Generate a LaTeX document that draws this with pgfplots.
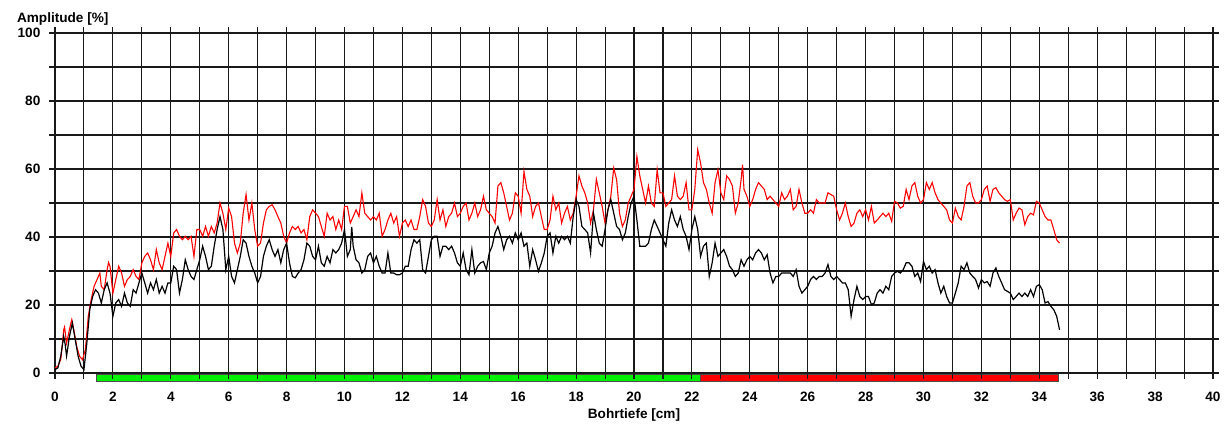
\documentclass[border=0pt]{standalone}
\usepackage{fontspec}
\setmainfont{Liberation Sans}
\usepackage{pgfplots}
\pgfplotsset{compat=1.18}

\definecolor{barGreen}{RGB}{0,240,0}
\definecolor{barRed}{RGB}{255,0,0}
\definecolor{gridc}{RGB}{25,25,25}
\newcommand\lblfont{\fontsize{6.8}{8}\selectfont\bfseries}

\begin{document}
\begin{tikzpicture}
\begin{axis}[
  set layers,
  scale only axis,
  width=579pt, height=170pt,
  xmin=0, xmax=40, ymin=0, ymax=100,
  clip=false,
  xtick={0,2,...,40}, ytick={0,20,...,100},
  minor x tick num=1, minor y tick num=1,
  grid=both,
  major grid style={gridc, line width=0.55pt},
  minor grid style={gridc, line width=0.55pt},
  axis line style={gridc, line width=0.55pt},
  tick style={gridc, line width=0.55pt},
  tick align=outside,
  major tick length=2.8pt, minor tick length=2.8pt,
  tick label style={font=\lblfont},
  /pgf/number format/assume math mode=true,
  xticklabel style={yshift=-3pt},
  yticklabel style={xshift=-1pt},
  xlabel={Bohrtiefe [cm]},
  ylabel={Amplitude [\%]},
  every axis x label/.style={at={(axis description cs:0.5,0)}, anchor=base, yshift=-22.5pt, font=\lblfont},
  every axis y label/.style={at={(axis description cs:0,1)}, anchor=base west, xshift=-22.5pt, yshift=5.5pt, font=\lblfont},
]
% Bohrtiefe-Balken unter der Achse
\addplot[on layer=axis background, fill=barGreen, draw=black!70, line width=0.5pt]
  coordinates {(1.42,-0.3) (22.29,-0.3) (22.29,-2.5) (1.42,-2.5)} -- cycle;
\addplot[on layer=axis background, fill=barRed, draw=black!70, line width=0.5pt]
  coordinates {(22.29,-0.3) (34.65,-0.3) (34.65,-2.5) (22.29,-2.5)} -- cycle;

% rote Kurve
\addplot[red, line width=0.55pt, mark=none] coordinates {
(0,1.5)(0.1,2)(0.2,4)(0.25,8)(0.3,12.7)(0.33,13.5)(0.4,8.8)(0.45,10.8)(0.55,14.7)(0.58,15.7)
(0.65,12.7)(0.75,7.8)(0.85,4.9)(0.95,3.9)(1.05,6.9)(1.15,16.7)(1.25,21.6)(1.35,25.5)(1.5,28.4)(1.55,29.4)
(1.6,25.5)(1.7,24.5)(1.8,30.4)(1.85,32.5)(1.9,31.4)(2.0,23.5)(2.1,27.5)(2.2,31.4)(2.3,29.4)(2.4,25.5)
(2.5,27.5)(2.6,28.4)(2.7,30.4)(2.8,28.4)(2.9,27.5)(3.0,32.4)(3.1,34.3)(3.2,35.3)(3.3,33.3)(3.4,30.4)
(3.5,36.3)(3.6,32.4)(3.7,30.4)(3.8,34.3)(3.9,38.2)(4.0,34.3)(4.1,41.2)(4.2,42.2)(4.3,40.2)(4.4,39.2)
(4.5,40.2)(4.6,39.2)(4.7,40.2)(4.8,34.3)(4.9,42.2)(5.0,42.2)(5.1,40.2)(5.2,43.1)(5.3,40.2)(5.4,43.1)
(5.5,41.2)(5.6,44.1)(5.7,50)(5.8,47)(5.9,42.2)(6.0,48.5)(6.1,46)(6.2,38.2)(6.3,35.3)(6.4,38.2)
(6.5,47)(6.6,52.5)(6.7,45)(6.8,50)(6.9,42.2)(7.0,37.3)(7.1,38.2)(7.2,44.1)(7.3,48)(7.4,49)
(7.5,49.5)(7.6,48)(7.7,46)(7.8,44.1)(7.9,40.2)(8.0,38.2)(8.1,41.2)(8.2,43.1)(8.3,42.2)(8.4,43.1)
(8.5,41.2)(8.6,42.2)(8.7,39.2)(8.8,46)(8.9,48)(9.0,47)(9.1,46)(9.2,43.1)(9.3,40.2)(9.4,47)
(9.5,45)(9.6,46)(9.7,42.2)(9.8,45)(9.9,42.2)(10.0,49)(10.1,49)(10.2,44.1)(10.3,46)(10.4,48)
(10.5,46)(10.6,53)(10.7,47)(10.8,46)(10.9,45)(11.0,46)(11.1,45)(11.2,47)(11.3,40.2)(11.4,42.2)
(11.5,45)(11.6,47)(11.7,44.1)(11.8,46)(11.9,40.2)(12.0,44.1)(12.1,45)(12.2,43.1)(12.3,45)(12.4,42.2)
(12.5,42.2)(12.6,46)(12.7,51)(12.8,49)(12.9,44.1)(13.0,43.1)(13.1,45)(13.2,51)(13.3,45)(13.4,48)
(13.5,43.1)(13.6,46)(13.7,47)(13.8,50)(13.9,46)(14.0,47)(14.1,49)(14.2,50)(14.3,45)(14.4,47)
(14.5,50)(14.6,46)(14.7,48)(14.8,52)(14.9,48)(15.0,47)(15.1,46)(15.2,44.1)(15.3,55)(15.4,56)
(15.5,53)(15.6,49)(15.7,45)(15.8,47)(15.9,53)(16.0,52)(16.1,47)(16.2,59.3)(16.3,54)(16.4,52)
(16.5,46)(16.6,49)(16.7,50)(16.8,46)(16.9,42.2)(17.0,42.2)(17.1,45)(17.2,52)(17.3,48)(17.4,50)
(17.5,44.1)(17.6,47)(17.7,49)(17.8,45)(17.9,47)(18.0,52)(18.1,58)(18.2,55)(18.3,53)(18.4,50)
(18.5,44.1)(18.6,48)(18.7,57)(18.8,53)(18.9,49)(19.0,44.1)(19.1,48)(19.2,52)(19.3,60.3)(19.4,56.9)
(19.5,47)(19.6,43.1)(19.7,45)(19.8,50)(19.9,52)(20.0,54)(20.1,63.7)(20.2,58)(20.3,54)(20.4,50)
(20.5,55)(20.6,50)(20.7,49)(20.8,59.8)(20.9,53)(21.0,53)(21.1,49)(21.2,50)(21.3,51)(21.4,58)
(21.5,52)(21.6,51)(21.7,52)(21.8,56)(21.9,48)(22.0,48)(22.1,54)(22.2,65.7)(22.3,61.8)(22.4,56)
(22.5,54)(22.6,50)(22.7,47)(22.8,56)(22.9,59.8)(23.0,53)(23.1,51)(23.2,58)(23.3,56.9)(23.4,55)
(23.5,47)(23.6,50)(23.7,56.9)(23.75,61.3)(23.8,54)(23.9,52)(24.0,49)(24.1,51)(24.2,54)(24.3,56)
(24.4,55)(24.5,54)(24.6,51)(24.7,52)(24.8,51)(24.9,50)(25.0,49)(25.1,53)(25.2,51)(25.3,52)
(25.4,54)(25.5,48)(25.6,49)(25.7,54)(25.8,50)(25.9,47)(26.0,47)(26.1,48)(26.2,47)(26.3,51)
(26.4,50)(26.5,50)(26.6,50)(26.7,53)(26.8,52.5)(26.9,52)(27.0,48)(27.1,45)(27.2,47)(27.3,50)
(27.4,46)(27.5,43.1)(27.6,44.1)(27.7,47)(27.8,48)(27.9,46)(28.0,48)(28.1,45)(28.2,49)(28.3,44.1)
(28.4,45)(28.5,46)(28.6,47)(28.7,46)(28.8,47)(28.9,44.6)(29.0,50.5)(29.1,50)(29.2,48.5)(29.3,49)
(29.4,54)(29.5,51)(29.6,55)(29.7,56)(29.8,52)(29.9,50)(30.0,51)(30.1,56)(30.2,54)(30.3,56)
(30.4,53)(30.5,51)(30.6,50)(30.7,49)(30.8,48)(30.9,45)(31.0,44.1)(31.1,48.5)(31.2,46)(31.3,45)
(31.4,49)(31.5,55)(31.6,56)(31.7,52)(31.8,50)(31.9,50)(32.0,51)(32.1,54)(32.2,55)(32.3,50.5)
(32.4,54)(32.5,54.5)(32.6,53)(32.7,52)(32.8,51)(32.9,50.5)(33.0,51)(33.1,45)(33.2,47)(33.3,48.5)
(33.4,48)(33.5,43.6)(33.6,46)(33.7,47)(33.8,46.5)(33.9,50.5)(34.0,50)(34.1,48)(34.2,46)(34.3,45)
(34.4,45)(34.5,42.2)(34.6,39.2)(34.7,38.2)
};

% schwarze Kurve
\addplot[black, line width=0.6pt, mark=none] coordinates {
(0,1)(0.1,1.5)(0.2,5)(0.3,10.8)(0.35,8.5)(0.4,5)(0.5,10.8)(0.6,14.7)(0.7,9.8)(0.8,4.9)
(0.9,2)(1.0,1)(1.1,8.8)(1.2,18.6)(1.3,22.5)(1.4,24.5)(1.5,23.5)(1.6,20.6)(1.7,24.5)(1.8,26.5)
(1.9,23.5)(2.0,16.7)(2.1,20.6)(2.2,21.6)(2.3,19.6)(2.4,23.5)(2.5,20.6)(2.6,19.6)(2.7,24.5)(2.8,23.5)
(2.9,26.5)(3.0,29.4)(3.1,26.5)(3.2,23.5)(3.3,26.5)(3.4,24.5)(3.5,27.5)(3.6,23.5)(3.7,25.5)(3.8,23.5)
(3.9,26.5)(4.0,26.5)(4.1,31.4)(4.2,30.4)(4.3,23.5)(4.4,27.5)(4.5,33.3)(4.6,30.4)(4.7,28.4)(4.8,27.5)
(4.9,30.4)(5.0,33.3)(5.1,37.3)(5.2,34.3)(5.3,30.4)(5.4,31.4)(5.5,37.3)(5.6,42.2)(5.7,46)(5.8,42.2)
(5.9,30.4)(6.0,34.3)(6.1,28.4)(6.2,26.5)(6.3,30.4)(6.4,34.3)(6.5,39.2)(6.6,38.2)(6.7,34.3)(6.8,31.4)
(6.9,29.4)(7.0,26.5)(7.1,28.4)(7.2,34.3)(7.3,37.3)(7.4,39.2)(7.5,36.3)(7.6,34.3)(7.7,36.3)(7.8,32.4)
(7.9,36.3)(8.0,38.2)(8.1,32.4)(8.2,28.4)(8.3,28)(8.4,29.4)(8.5,30.4)(8.6,33.3)(8.7,38.2)(8.8,37.3)
(8.9,34.3)(9.0,33.3)(9.1,37.3)(9.2,32.4)(9.3,31.4)(9.4,34.3)(9.5,32.4)(9.6,36.3)(9.7,35.3)(9.8,36.3)
(9.9,38.2)(10.0,42.2)(10.1,34.3)(10.2,36.3)(10.25,43)(10.3,37.3)(10.4,33.3)(10.5,32.4)(10.6,29.4)(10.7,30.4)
(10.8,34.3)(10.9,35.3)(11.0,32.4)(11.1,34.3)(11.2,31.4)(11.3,29.4)(11.4,29.4)(11.5,35.3)(11.6,29.4)(11.7,29.4)
(11.8,28.9)(11.9,28.9)(12.0,29.4)(12.1,31.4)(12.2,31.4)(12.3,36.3)(12.4,39.2)(12.5,38.2)(12.6,39.2)(12.7,30.4)
(12.8,29.4)(12.9,34.3)(13.0,39.2)(13.1,40.2)(13.2,40.2)(13.3,34.3)(13.4,37.3)(13.5,37.3)(13.6,36.3)(13.7,37.3)
(13.8,35.3)(13.9,32.4)(14.0,31.4)(14.1,35.3)(14.2,30.4)(14.3,28.9)(14.4,36.3)(14.5,29.4)(14.6,31.4)(14.7,32.4)
(14.8,32.8)(14.9,30.4)(15.0,35.3)(15.1,37.3)(15.2,41.2)(15.3,43.1)(15.4,40.2)(15.5,36.3)(15.6,39.2)(15.7,40.2)
(15.8,38.2)(15.9,41.2)(16.0,39.2)(16.1,41.2)(16.2,37.3)(16.3,38.2)(16.4,31.4)(16.5,36.3)(16.6,33.3)(16.7,29.9)
(16.8,32.4)(16.9,35.3)(17.0,40.2)(17.1,41.2)(17.2,35.3)(17.3,40.2)(17.4,38.2)(17.5,40.2)(17.6,39.2)(17.7,40.2)
(17.8,38.2)(17.9,46)(18.0,51)(18.1,49)(18.2,43.1)(18.3,42.2)(18.4,41.2)(18.5,35.3)(18.6,47)(18.7,42.2)
(18.8,38.2)(18.9,37.3)(19.0,42.2)(19.1,48)(19.2,51)(19.3,47)(19.4,43.1)(19.5,42.2)(19.6,39.2)(19.7,41.2)
(19.8,46)(19.9,50)(20.0,52)(20.1,45)(20.2,37.3)(20.3,37.3)(20.4,37.3)(20.5,38.2)(20.6,42.2)(20.7,45)
(20.8,43.1)(20.9,41.2)(21.0,39.2)(21.1,37.3)(21.2,44.1)(21.3,48)(21.4,45)(21.5,43.1)(21.6,46)(21.7,42.2)
(21.8,40.2)(21.9,36.3)(22.0,42.2)(22.1,46)(22.2,42.2)(22.3,34.3)(22.4,37.3)(22.5,38.2)(22.6,28.4)(22.7,32.4)
(22.8,38.2)(22.9,34.3)(23.0,35.3)(23.1,36.3)(23.2,34.3)(23.3,31.4)(23.4,30.4)(23.5,28.4)(23.6,29.4)(23.7,33.3)
(23.8,31.4)(23.9,33.3)(24.0,34.3)(24.1,33.3)(24.2,35.3)(24.3,36.3)(24.4,35.3)(24.5,33.3)(24.6,34.8)(24.7,29.4)
(24.8,26.5)(24.9,28.4)(25.0,28.4)(25.1,29.4)(25.2,29.4)(25.3,29.4)(25.4,29.4)(25.5,28.4)(25.6,30.4)(25.7,25.5)
(25.8,23.5)(25.9,24.5)(26.0,25.5)(26.1,27.5)(26.2,28.4)(26.3,27.5)(26.4,28.4)(26.5,28.4)(26.6,29.4)(26.7,31.9)
(26.8,28.4)(26.9,27.5)(27.0,28.4)(27.1,27.5)(27.2,26.5)(27.3,26.5)(27.4,24.5)(27.5,16.7)(27.6,21.6)(27.7,25.5)
(27.8,22.5)(27.9,21.6)(28.0,22.5)(28.1,22.5)(28.2,20.1)(28.3,20.6)(28.4,23.5)(28.5,24.5)(28.6,23.5)(28.7,25.5)
(28.8,24.5)(28.9,28.4)(29.0,29.4)(29.1,29.9)(29.2,29.4)(29.3,30.4)(29.4,32.4)(29.5,32.4)(29.6,31.4)(29.7,28.4)
(29.8,29.4)(29.9,26.9)(30.0,32.8)(30.1,30.4)(30.2,31.4)(30.3,29.4)(30.4,30.4)(30.5,26.5)(30.6,23.5)(30.7,25.5)
(30.8,22.5)(30.9,20.6)(31.0,20.6)(31.1,23.5)(31.2,26.5)(31.3,31.4)(31.4,30.4)(31.5,32.4)(31.6,29.4)(31.7,28.4)
(31.8,27.5)(31.9,25)(32.0,27.5)(32.1,26.5)(32.2,26.9)(32.3,25.5)(32.4,29.4)(32.5,30.9)(32.6,28.4)(32.7,26.5)
(32.8,24.5)(32.9,24)(33.0,23.5)(33.1,21.6)(33.2,22.5)(33.3,23.5)(33.4,22.5)(33.5,23.5)(33.6,22.5)(33.7,24.5)
(33.8,22.5)(33.9,25.5)(34.0,26)(34.1,24.5)(34.2,20.6)(34.3,21)(34.4,19.6)(34.5,18.6)(34.6,16.7)(34.7,12.7)
};
\end{axis}
\path (-27.5pt,-26pt) rectangle (586.5pt,186.5pt);
\end{tikzpicture}
\end{document}
